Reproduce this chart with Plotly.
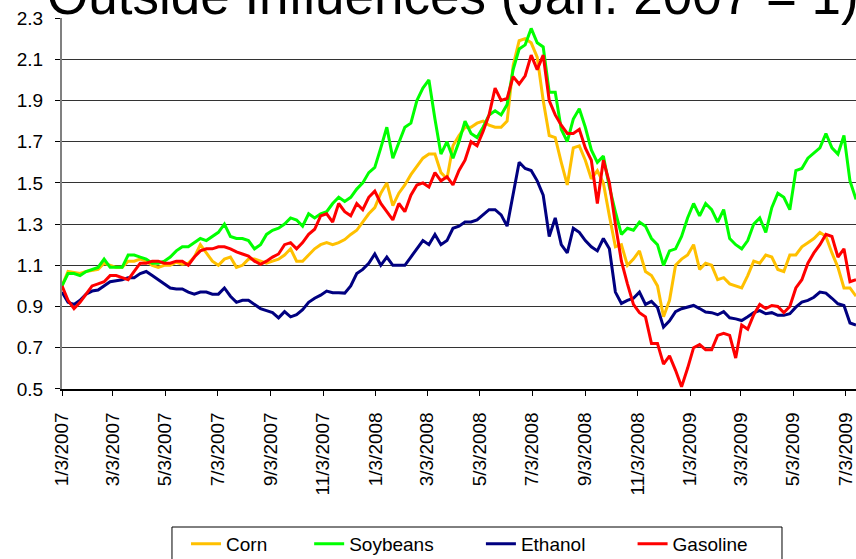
import pandas as pd
import plotly.graph_objects as go

# ---------------- data (weekly readings, Jan. 2007 = 1) ----------------
start_date = "2007-01-03"
n_weeks = 133
dates = pd.date_range(start_date, periods=n_weeks, freq="7D")

corn = [
    1.00, 1.07, 1.065, 1.06, 1.07, 1.075, 1.08, 1.11, 1.10, 1.09, 1.09, 1.12, 1.12, 1.13, 1.12, 1.10, 1.09,
    1.10, 1.10, 1.115, 1.105, 1.11, 1.14, 1.20, 1.16, 1.12, 1.10, 1.13, 1.14, 1.09, 1.10, 1.13, 1.13, 1.12,
    1.11, 1.12, 1.13, 1.15, 1.18, 1.12, 1.12, 1.15, 1.18, 1.20, 1.21, 1.20, 1.21, 1.225, 1.25, 1.27, 1.31,
    1.35, 1.38, 1.45, 1.50, 1.39, 1.45, 1.49, 1.54, 1.58, 1.62, 1.64, 1.64, 1.55, 1.52, 1.68, 1.73, 1.77,
    1.77, 1.79, 1.80, 1.78, 1.77, 1.77, 1.80, 2.07, 2.19, 2.20, 2.18, 2.11, 1.90, 1.73, 1.72, 1.60, 1.49,
    1.67, 1.68, 1.61, 1.52, 1.56, 1.50, 1.34, 1.19, 1.20, 1.10, 1.13, 1.17, 1.07, 1.05, 1.00, 0.85,
    0.93, 1.10, 1.13, 1.15, 1.20, 1.08, 1.11, 1.10, 1.03, 1.04, 1.01, 1.00, 0.99, 1.05, 1.12, 1.11, 1.15,
    1.14, 1.08, 1.07, 1.15, 1.15, 1.19, 1.21, 1.23, 1.26, 1.24, 1.16, 1.09, 0.99, 0.99, 0.95,
]
soybeans = [
    1.00, 1.06, 1.06, 1.05, 1.07, 1.08, 1.09, 1.13, 1.09, 1.09, 1.09, 1.15, 1.15, 1.14, 1.13, 1.11, 1.11,
    1.12, 1.14, 1.17, 1.19, 1.19, 1.21, 1.23, 1.22, 1.24, 1.26, 1.30, 1.24, 1.23, 1.23, 1.22, 1.18, 1.20,
    1.25, 1.27, 1.28, 1.30, 1.33, 1.32, 1.29, 1.35, 1.33, 1.35, 1.36, 1.40, 1.43, 1.41, 1.43, 1.47, 1.50,
    1.55, 1.575, 1.67, 1.77, 1.62, 1.70, 1.77, 1.79, 1.90, 1.96, 2.00, 1.81, 1.64, 1.70, 1.62, 1.70, 1.80,
    1.74, 1.72, 1.77, 1.83, 1.85, 1.83, 1.88, 2.05, 2.15, 2.17, 2.25, 2.18, 2.16, 1.94, 1.94, 1.76, 1.70,
    1.81, 1.86, 1.77, 1.66, 1.60, 1.63, 1.48, 1.36, 1.25, 1.28, 1.27, 1.31, 1.29, 1.23, 1.20, 1.10,
    1.17, 1.18, 1.24, 1.33, 1.40, 1.34, 1.40, 1.37, 1.31, 1.37, 1.23, 1.20, 1.18, 1.22, 1.30, 1.33, 1.26,
    1.38, 1.45, 1.43, 1.37, 1.56, 1.57, 1.62, 1.645, 1.67, 1.74, 1.67, 1.64, 1.73, 1.51, 1.42,
]
ethanol = [
    0.97, 0.92, 0.91, 0.93, 0.96, 0.975, 0.98, 1.00, 1.02, 1.025, 1.03, 1.04, 1.04, 1.06, 1.07, 1.05, 1.03,
    1.01, 0.99, 0.985, 0.985, 0.97, 0.96, 0.97, 0.97, 0.96, 0.96, 0.99, 0.95, 0.92, 0.93, 0.93, 0.91, 0.89,
    0.88, 0.87, 0.845, 0.875, 0.85, 0.86, 0.885, 0.92, 0.94, 0.955, 0.975, 0.967, 0.967, 0.965, 1.00, 1.06,
    1.08, 1.11, 1.155, 1.10, 1.14, 1.10, 1.10, 1.10, 1.14, 1.18, 1.22, 1.20, 1.25, 1.20, 1.22, 1.28, 1.29,
    1.31, 1.31, 1.32, 1.345, 1.37, 1.37, 1.345, 1.29, 1.45, 1.60, 1.57, 1.56, 1.51, 1.44, 1.24, 1.33, 1.20,
    1.16, 1.28, 1.26, 1.22, 1.19, 1.17, 1.23, 1.18, 0.97, 0.915, 0.93, 0.94, 0.97, 0.91, 0.925, 0.895, 0.80,
    0.83, 0.875, 0.889, 0.897, 0.905, 0.89, 0.873, 0.87, 0.86, 0.875, 0.845, 0.84, 0.832, 0.85, 0.87, 0.88,
    0.865, 0.87, 0.857, 0.857, 0.865, 0.897, 0.921, 0.93, 0.945, 0.97, 0.965, 0.94, 0.913, 0.905, 0.82, 0.81,
]
gasoline = [
    1.00, 0.93, 0.89, 0.92, 0.96, 1.00, 1.01, 1.02, 1.05, 1.05, 1.04, 1.03, 1.07, 1.11, 1.11, 1.12, 1.12,
    1.11, 1.11, 1.12, 1.12, 1.10, 1.14, 1.17, 1.18, 1.18, 1.19, 1.19, 1.18, 1.165, 1.155, 1.145, 1.12, 1.105,
    1.12, 1.14, 1.155, 1.20, 1.21, 1.18, 1.21, 1.25, 1.275, 1.34, 1.35, 1.31, 1.40, 1.36, 1.34, 1.40, 1.37,
    1.43, 1.46, 1.40, 1.36, 1.32, 1.40, 1.36, 1.44, 1.49, 1.50, 1.48, 1.55, 1.51, 1.53, 1.49, 1.56, 1.61,
    1.70, 1.68, 1.75, 1.83, 1.96, 1.90, 1.91, 2.016, 1.98, 2.02, 2.12, 2.05, 2.12, 1.90, 1.83, 1.78, 1.74,
    1.74, 1.76, 1.67, 1.61, 1.40, 1.61, 1.50, 1.30, 1.12, 1.01, 0.91, 0.87, 0.85, 0.72, 0.72, 0.62,
    0.66, 0.59, 0.51, 0.60, 0.70, 0.715, 0.69, 0.69, 0.76, 0.77, 0.76, 0.65, 0.81, 0.79, 0.86, 0.91, 0.89,
    0.905, 0.90, 0.87, 0.90, 0.99, 1.03, 1.11, 1.16, 1.20, 1.25, 1.24, 1.14, 1.18, 1.02, 1.03,
]

series_names = ["Corn", "Soybeans", "Ethanol", "Gasoline"]
series_values = [corn, soybeans, ethanol, gasoline]
series_colors = ["#FFC000", "#00FF00", "#000080", "#FF0000"]

x_tick_dates = ["2007-01-03", "2007-03-03", "2007-05-03", "2007-07-03", "2007-09-03", "2007-11-03",
                "2008-01-03", "2008-03-03", "2008-05-03", "2008-07-03", "2008-09-03", "2008-11-03",
                "2009-01-03", "2009-03-03", "2009-05-03", "2009-07-03"]
x_tick_labels = ["1/3/2007", "3/3/2007", "5/3/2007", "7/3/2007", "9/3/2007", "11/3/2007",
                 "1/3/2008", "3/3/2008", "5/3/2008", "7/3/2008", "9/3/2008", "11/3/2008",
                 "1/3/2009", "3/3/2009", "5/3/2009", "7/3/2009"]
y_tick_values = [0.5, 0.7, 0.9, 1.1, 1.3, 1.5, 1.7, 1.9, 2.1, 2.3]
y_tick_labels = ["0.5", "0.7", "0.9", "1.1", "1.3", "1.5", "1.7", "1.9", "2.1", "2.3"]

title_text = "Outside Influences (Jan. 2007 = 1)"

FONT = "Liberation Sans, Arial, sans-serif"
NBSP = "\u00a0"
legend_pad = [7, 8, 8, 0]

fig = go.Figure()
for name, vals, col, pad in zip(series_names, series_values, series_colors, legend_pad):
    fig.add_trace(go.Scatter(
        x=dates, y=vals, mode="lines", name=name + NBSP * pad,
        line=dict(color=col, width=3), hoverinfo="skip",
    ))

fig.update_layout(
    width=856, height=559,
    margin=dict(l=62, r=0, t=18, b=170, autoexpand=False),
    paper_bgcolor="white", plot_bgcolor="white",
    font=dict(family=FONT, size=19, color="black"),
    showlegend=True,
    legend=dict(orientation="h", x=0.1562, xanchor="left", y=-0.366, yanchor="top",
                bgcolor="rgba(0,0,0,0)", borderwidth=0, font=dict(size=19, family=FONT)),
    xaxis=dict(
        type="date", range=["2007-01-03", "2009-07-15"], automargin=False,
        tickmode="array", tickvals=x_tick_dates, ticktext=x_tick_labels,
        tickangle=-90, ticks="outside", ticklen=5, tickcolor="black", tickwidth=1,
        showline=True, linecolor="black", linewidth=1.5,
        showgrid=False, zeroline=False, ticklabelstandoff=9,
        tickfont=dict(size=19, family=FONT, color="black"),
    ),
    yaxis=dict(
        range=[0.4995, 2.3005], automargin=False,
        tickmode="array", tickvals=y_tick_values, ticktext=y_tick_labels,
        ticks="outside", ticklen=5, tickcolor="black", tickwidth=1,
        showline=True, linecolor="#808080", linewidth=2,
        showgrid=True, gridcolor="#333333", gridwidth=1, zeroline=False, ticklabelstandoff=8,
        tickfont=dict(size=19, family=FONT, color="black"),
    ),
    shapes=[dict(type="rect", xref="paper", yref="paper", x0=0.1385, x1=0.9068, y0=-0.372, y1=-0.6,
                 line=dict(color="black", width=1), fillcolor="rgba(0,0,0,0)", layer="above")],
    annotations=[dict(text=title_text, xref="paper", yref="paper", x=0.492, y=0.976,
                      xanchor="center", yanchor="bottom", showarrow=False,
                      font=dict(size=53, family=FONT, color="black"))],
)

fig.write_html("out.html", config={"displayModeBar": False},
               post_script="document.body.style.margin='0px';document.body.style.overflow='hidden';")
